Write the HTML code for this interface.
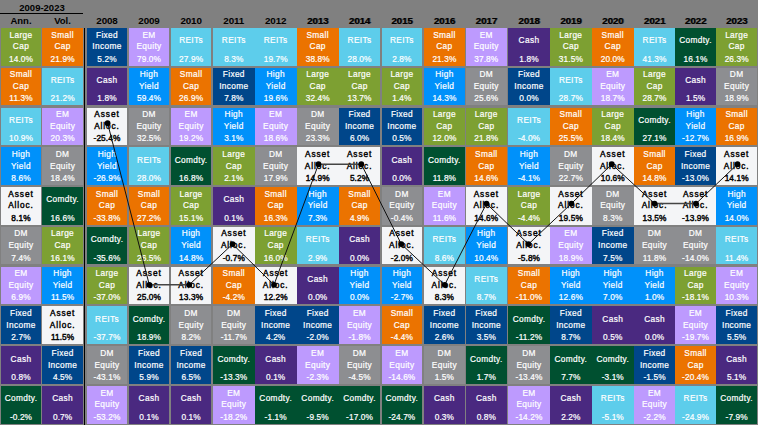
<!DOCTYPE html>
<html><head><meta charset="utf-8">
<style>
html,body{margin:0;padding:0;}
body{width:758px;height:425px;background:#808080;position:relative;overflow:hidden;
 font-family:"Liberation Sans",sans-serif;font-weight:bold;}
.c{position:absolute;box-sizing:border-box;color:#fff;font-size:8.3px;text-align:center;font-weight:normal;letter-spacing:0.35px;-webkit-text-stroke:0.2px currentColor;}
.c span.p{letter-spacing:0.1px;}
.c span{position:absolute;left:-4px;right:-4px;white-space:nowrap;line-height:10px;}
.k{color:#000;}
.c.k span{-webkit-text-stroke:0.4px #000;letter-spacing:0.9px;}
.c.k span.p{letter-spacing:0.1px;}
.h{position:absolute;color:#000;font-size:9.5px;white-space:nowrap;text-align:center;line-height:10px;}
</style></head><body>

<div class="h" style="left:0;width:84px;top:3px;">2009-2023</div>
<div style="position:absolute;left:0;top:13px;width:83px;height:1px;background:#000"></div>
<div class="h" style="left:1px;width:40px;top:16px;">Ann.</div>
<div class="h" style="left:42px;width:41px;top:16px;">Vol.</div>
<div class="h" style="left:87px;width:40.00px;top:16.0px;font-size:9.8px;letter-spacing:-0.1px;">2008</div>
<div class="h" style="left:129px;width:40.00px;top:16.0px;font-size:9.8px;letter-spacing:-0.1px;">2009</div>
<div class="h" style="left:171px;width:40.20px;top:16.0px;font-size:9.8px;letter-spacing:-0.1px;">2010</div>
<div class="h" style="left:213px;width:41.60px;top:16.0px;font-size:9.8px;letter-spacing:-0.1px;">2011</div>
<div class="h" style="left:254.6px;width:42.20px;top:16.0px;font-size:9.8px;letter-spacing:-0.1px;">2012</div>
<div class="h" style="left:296.8px;width:41.80px;top:16.0px;font-size:9.8px;letter-spacing:-0.1px;text-shadow:0.8px 0 0 rgba(0,0,0,0.6);">2013</div>
<div class="h" style="left:338.6px;width:41.90px;top:16.0px;font-size:9.8px;letter-spacing:-0.1px;text-shadow:0.8px 0 0 rgba(0,0,0,0.6);">2014</div>
<div class="h" style="left:381.5px;width:40.80px;top:16.0px;font-size:9.8px;letter-spacing:-0.1px;text-shadow:0.8px 0 0 rgba(0,0,0,0.6);">2015</div>
<div class="h" style="left:423.8px;width:41.20px;top:16.0px;font-size:9.8px;letter-spacing:-0.1px;text-shadow:0.8px 0 0 rgba(0,0,0,0.6);">2016</div>
<div class="h" style="left:465.8px;width:41.00px;top:16.0px;font-size:9.8px;letter-spacing:-0.1px;text-shadow:0.8px 0 0 rgba(0,0,0,0.6);">2017</div>
<div class="h" style="left:508px;width:42.00px;top:16.0px;font-size:9.8px;letter-spacing:-0.1px;text-shadow:0.8px 0 0 rgba(0,0,0,0.6);">2018</div>
<div class="h" style="left:550px;width:41.70px;top:16.0px;font-size:9.8px;letter-spacing:-0.1px;text-shadow:0.8px 0 0 rgba(0,0,0,0.6);">2019</div>
<div class="h" style="left:592px;width:41.50px;top:16.0px;font-size:9.8px;letter-spacing:-0.1px;text-shadow:0.8px 0 0 rgba(0,0,0,0.6);">2020</div>
<div class="h" style="left:634px;width:41.10px;top:16.0px;font-size:9.8px;letter-spacing:-0.1px;text-shadow:0.8px 0 0 rgba(0,0,0,0.6);">2021</div>
<div class="h" style="left:675.3px;width:40.50px;top:16.0px;font-size:9.8px;letter-spacing:-0.1px;text-shadow:0.8px 0 0 rgba(0,0,0,0.6);">2022</div>
<div class="h" style="left:716.3px;width:40.70px;top:16.0px;font-size:9.8px;letter-spacing:-0.1px;text-shadow:0.8px 0 0 rgba(0,0,0,0.6);">2023</div>
<div style="position:absolute;left:84px;top:28px;width:1px;height:397px;background:#000"></div>
<div class="c" style="left:1px;top:28.00px;width:40.00px;height:37.5px;background:#7da032"><span style="top:1.52px">Large</span><span style="top:13.32px">Cap</span><span class="p" style="top:25.62px">14.0%</span></div>
<div class="c" style="left:42px;top:28.00px;width:41.20px;height:37.5px;background:#eb7300"><span style="top:1.52px">Small</span><span style="top:13.32px">Cap</span><span class="p" style="top:25.62px">21.9%</span></div>
<div class="c" style="left:87px;top:28.00px;width:40.00px;height:37.5px;background:#00468a"><span style="top:1.52px">Fixed</span><span style="top:13.32px">Income</span><span class="p" style="top:25.62px">5.2%</span></div>
<div class="c" style="left:129px;top:28.00px;width:40.00px;height:37.5px;background:#bd9afe"><span style="top:1.52px">EM</span><span style="top:13.32px">Equity</span><span class="p" style="top:25.62px">79.0%</span></div>
<div class="c" style="left:171px;top:28.00px;width:40.20px;height:37.5px;background:#5dcdeb"><span style="top:7.32px">REITs</span><span class="p" style="top:25.62px">27.9%</span></div>
<div class="c" style="left:213px;top:28.00px;width:41.60px;height:37.5px;background:#5dcdeb"><span style="top:7.32px">REITs</span><span class="p" style="top:25.62px">8.3%</span></div>
<div class="c" style="left:254.6px;top:28.00px;width:42.20px;height:37.5px;background:#5dcdeb"><span style="top:7.32px">REITs</span><span class="p" style="top:25.62px">19.7%</span></div>
<div class="c" style="left:296.8px;top:28.00px;width:41.80px;height:37.5px;background:#eb7300"><span style="top:1.52px">Small</span><span style="top:13.32px">Cap</span><span class="p" style="top:25.62px">38.8%</span></div>
<div class="c" style="left:338.6px;top:28.00px;width:41.90px;height:37.5px;background:#5dcdeb"><span style="top:7.32px">REITs</span><span class="p" style="top:25.62px">28.0%</span></div>
<div class="c" style="left:381.5px;top:28.00px;width:40.80px;height:37.5px;background:#5dcdeb"><span style="top:7.32px">REITs</span><span class="p" style="top:25.62px">2.8%</span></div>
<div class="c" style="left:423.8px;top:28.00px;width:41.20px;height:37.5px;background:#eb7300"><span style="top:1.52px">Small</span><span style="top:13.32px">Cap</span><span class="p" style="top:25.62px">21.3%</span></div>
<div class="c" style="left:465.8px;top:28.00px;width:41.00px;height:37.5px;background:#bd9afe"><span style="top:1.52px">EM</span><span style="top:13.32px">Equity</span><span class="p" style="top:25.62px">37.8%</span></div>
<div class="c" style="left:508px;top:28.00px;width:42.00px;height:37.5px;background:#4a2980"><span style="top:7.32px">Cash</span><span class="p" style="top:25.62px">1.8%</span></div>
<div class="c" style="left:550px;top:28.00px;width:41.70px;height:37.5px;background:#7da032"><span style="top:1.52px">Large</span><span style="top:13.32px">Cap</span><span class="p" style="top:25.62px">31.5%</span></div>
<div class="c" style="left:592px;top:28.00px;width:41.50px;height:37.5px;background:#eb7300"><span style="top:1.52px">Small</span><span style="top:13.32px">Cap</span><span class="p" style="top:25.62px">20.0%</span></div>
<div class="c" style="left:634px;top:28.00px;width:41.10px;height:37.5px;background:#5dcdeb"><span style="top:7.32px">REITs</span><span class="p" style="top:25.62px">41.3%</span></div>
<div class="c" style="left:675.3px;top:28.00px;width:40.50px;height:37.5px;background:#005030"><span style="top:7.32px">Comdty.</span><span class="p" style="top:25.62px">16.1%</span></div>
<div class="c" style="left:716.3px;top:28.00px;width:40.70px;height:37.5px;background:#7da032"><span style="top:1.52px">Large</span><span style="top:13.32px">Cap</span><span class="p" style="top:25.62px">26.3%</span></div>
<div class="c" style="left:1px;top:67.78px;width:40.00px;height:37.5px;background:#eb7300"><span style="top:1.52px">Small</span><span style="top:13.32px">Cap</span><span class="p" style="top:25.62px">11.3%</span></div>
<div class="c" style="left:42px;top:67.78px;width:41.20px;height:37.5px;background:#5dcdeb"><span style="top:7.32px">REITs</span><span class="p" style="top:25.62px">21.2%</span></div>
<div class="c" style="left:87px;top:67.78px;width:40.00px;height:37.5px;background:#4a2980"><span style="top:7.32px">Cash</span><span class="p" style="top:25.62px">1.8%</span></div>
<div class="c" style="left:129px;top:67.78px;width:40.00px;height:37.5px;background:#0091fa"><span style="top:1.52px">High</span><span style="top:13.32px">Yield</span><span class="p" style="top:25.62px">59.4%</span></div>
<div class="c" style="left:171px;top:67.78px;width:40.20px;height:37.5px;background:#eb7300"><span style="top:1.52px">Small</span><span style="top:13.32px">Cap</span><span class="p" style="top:25.62px">26.9%</span></div>
<div class="c" style="left:213px;top:67.78px;width:41.60px;height:37.5px;background:#00468a"><span style="top:1.52px">Fixed</span><span style="top:13.32px">Income</span><span class="p" style="top:25.62px">7.8%</span></div>
<div class="c" style="left:254.6px;top:67.78px;width:42.20px;height:37.5px;background:#0091fa"><span style="top:1.52px">High</span><span style="top:13.32px">Yield</span><span class="p" style="top:25.62px">19.6%</span></div>
<div class="c" style="left:296.8px;top:67.78px;width:41.80px;height:37.5px;background:#7da032"><span style="top:1.52px">Large</span><span style="top:13.32px">Cap</span><span class="p" style="top:25.62px">32.4%</span></div>
<div class="c" style="left:338.6px;top:67.78px;width:41.90px;height:37.5px;background:#7da032"><span style="top:1.52px">Large</span><span style="top:13.32px">Cap</span><span class="p" style="top:25.62px">13.7%</span></div>
<div class="c" style="left:381.5px;top:67.78px;width:40.80px;height:37.5px;background:#7da032"><span style="top:1.52px">Large</span><span style="top:13.32px">Cap</span><span class="p" style="top:25.62px">1.4%</span></div>
<div class="c" style="left:423.8px;top:67.78px;width:41.20px;height:37.5px;background:#0091fa"><span style="top:1.52px">High</span><span style="top:13.32px">Yield</span><span class="p" style="top:25.62px">14.3%</span></div>
<div class="c" style="left:465.8px;top:67.78px;width:41.00px;height:37.5px;background:#8d8e91"><span style="top:1.52px">DM</span><span style="top:13.32px">Equity</span><span class="p" style="top:25.62px">25.6%</span></div>
<div class="c" style="left:508px;top:67.78px;width:42.00px;height:37.5px;background:#00468a"><span style="top:1.52px">Fixed</span><span style="top:13.32px">Income</span><span class="p" style="top:25.62px">0.0%</span></div>
<div class="c" style="left:550px;top:67.78px;width:41.70px;height:37.5px;background:#5dcdeb"><span style="top:7.32px">REITs</span><span class="p" style="top:25.62px">28.7%</span></div>
<div class="c" style="left:592px;top:67.78px;width:41.50px;height:37.5px;background:#bd9afe"><span style="top:1.52px">EM</span><span style="top:13.32px">Equity</span><span class="p" style="top:25.62px">18.7%</span></div>
<div class="c" style="left:634px;top:67.78px;width:41.10px;height:37.5px;background:#7da032"><span style="top:1.52px">Large</span><span style="top:13.32px">Cap</span><span class="p" style="top:25.62px">28.7%</span></div>
<div class="c" style="left:675.3px;top:67.78px;width:40.50px;height:37.5px;background:#4a2980"><span style="top:7.32px">Cash</span><span class="p" style="top:25.62px">1.5%</span></div>
<div class="c" style="left:716.3px;top:67.78px;width:40.70px;height:37.5px;background:#8d8e91"><span style="top:1.52px">DM</span><span style="top:13.32px">Equity</span><span class="p" style="top:25.62px">18.9%</span></div>
<div class="c" style="left:1px;top:107.56px;width:40.00px;height:37.5px;background:#5dcdeb"><span style="top:7.32px">REITs</span><span class="p" style="top:25.62px">10.9%</span></div>
<div class="c" style="left:42px;top:107.56px;width:41.20px;height:37.5px;background:#bd9afe"><span style="top:1.52px">EM</span><span style="top:13.32px">Equity</span><span class="p" style="top:25.62px">20.3%</span></div>
<div class="c k" style="left:87px;top:107.56px;width:40.00px;height:37.5px;background:#f4f5f7"><span style="top:1.52px">Asset</span><span style="top:13.32px">Alloc.</span><span class="p" style="top:25.62px">-25.4%</span></div>
<div class="c" style="left:129px;top:107.56px;width:40.00px;height:37.5px;background:#8d8e91"><span style="top:1.52px">DM</span><span style="top:13.32px">Equity</span><span class="p" style="top:25.62px">32.5%</span></div>
<div class="c" style="left:171px;top:107.56px;width:40.20px;height:37.5px;background:#bd9afe"><span style="top:1.52px">EM</span><span style="top:13.32px">Equity</span><span class="p" style="top:25.62px">19.2%</span></div>
<div class="c" style="left:213px;top:107.56px;width:41.60px;height:37.5px;background:#0091fa"><span style="top:1.52px">High</span><span style="top:13.32px">Yield</span><span class="p" style="top:25.62px">3.1%</span></div>
<div class="c" style="left:254.6px;top:107.56px;width:42.20px;height:37.5px;background:#bd9afe"><span style="top:1.52px">EM</span><span style="top:13.32px">Equity</span><span class="p" style="top:25.62px">18.6%</span></div>
<div class="c" style="left:296.8px;top:107.56px;width:41.80px;height:37.5px;background:#8d8e91"><span style="top:1.52px">DM</span><span style="top:13.32px">Equity</span><span class="p" style="top:25.62px">23.3%</span></div>
<div class="c" style="left:338.6px;top:107.56px;width:41.90px;height:37.5px;background:#00468a"><span style="top:1.52px">Fixed</span><span style="top:13.32px">Income</span><span class="p" style="top:25.62px">6.0%</span></div>
<div class="c" style="left:381.5px;top:107.56px;width:40.80px;height:37.5px;background:#00468a"><span style="top:1.52px">Fixed</span><span style="top:13.32px">Income</span><span class="p" style="top:25.62px">0.5%</span></div>
<div class="c" style="left:423.8px;top:107.56px;width:41.20px;height:37.5px;background:#7da032"><span style="top:1.52px">Large</span><span style="top:13.32px">Cap</span><span class="p" style="top:25.62px">12.0%</span></div>
<div class="c" style="left:465.8px;top:107.56px;width:41.00px;height:37.5px;background:#7da032"><span style="top:1.52px">Large</span><span style="top:13.32px">Cap</span><span class="p" style="top:25.62px">21.8%</span></div>
<div class="c" style="left:508px;top:107.56px;width:42.00px;height:37.5px;background:#5dcdeb"><span style="top:7.32px">REITs</span><span class="p" style="top:25.62px">-4.0%</span></div>
<div class="c" style="left:550px;top:107.56px;width:41.70px;height:37.5px;background:#eb7300"><span style="top:1.52px">Small</span><span style="top:13.32px">Cap</span><span class="p" style="top:25.62px">25.5%</span></div>
<div class="c" style="left:592px;top:107.56px;width:41.50px;height:37.5px;background:#7da032"><span style="top:1.52px">Large</span><span style="top:13.32px">Cap</span><span class="p" style="top:25.62px">18.4%</span></div>
<div class="c" style="left:634px;top:107.56px;width:41.10px;height:37.5px;background:#005030"><span style="top:7.32px">Comdty.</span><span class="p" style="top:25.62px">27.1%</span></div>
<div class="c" style="left:675.3px;top:107.56px;width:40.50px;height:37.5px;background:#0091fa"><span style="top:1.52px">High</span><span style="top:13.32px">Yield</span><span class="p" style="top:25.62px">-12.7%</span></div>
<div class="c" style="left:716.3px;top:107.56px;width:40.70px;height:37.5px;background:#eb7300"><span style="top:1.52px">Small</span><span style="top:13.32px">Cap</span><span class="p" style="top:25.62px">16.9%</span></div>
<div class="c" style="left:1px;top:147.34px;width:40.00px;height:37.5px;background:#0091fa"><span style="top:1.52px">High</span><span style="top:13.32px">Yield</span><span class="p" style="top:25.62px">8.6%</span></div>
<div class="c" style="left:42px;top:147.34px;width:41.20px;height:37.5px;background:#8d8e91"><span style="top:1.52px">DM</span><span style="top:13.32px">Equity</span><span class="p" style="top:25.62px">18.4%</span></div>
<div class="c" style="left:87px;top:147.34px;width:40.00px;height:37.5px;background:#0091fa"><span style="top:1.52px">High</span><span style="top:13.32px">Yield</span><span class="p" style="top:25.62px">-26.9%</span></div>
<div class="c" style="left:129px;top:147.34px;width:40.00px;height:37.5px;background:#5dcdeb"><span style="top:7.32px">REITs</span><span class="p" style="top:25.62px">28.0%</span></div>
<div class="c" style="left:171px;top:147.34px;width:40.20px;height:37.5px;background:#005030"><span style="top:7.32px">Comdty.</span><span class="p" style="top:25.62px">16.8%</span></div>
<div class="c" style="left:213px;top:147.34px;width:41.60px;height:37.5px;background:#7da032"><span style="top:1.52px">Large</span><span style="top:13.32px">Cap</span><span class="p" style="top:25.62px">2.1%</span></div>
<div class="c" style="left:254.6px;top:147.34px;width:42.20px;height:37.5px;background:#8d8e91"><span style="top:1.52px">DM</span><span style="top:13.32px">Equity</span><span class="p" style="top:25.62px">17.9%</span></div>
<div class="c k" style="left:296.8px;top:147.34px;width:41.80px;height:37.5px;background:#f4f5f7"><span style="top:1.52px">Asset</span><span style="top:13.32px">Alloc.</span><span class="p" style="top:25.62px">14.9%</span></div>
<div class="c k" style="left:338.6px;top:147.34px;width:41.90px;height:37.5px;background:#f4f5f7"><span style="top:1.52px">Asset</span><span style="top:13.32px">Alloc.</span><span class="p" style="top:25.62px">5.2%</span></div>
<div class="c" style="left:381.5px;top:147.34px;width:40.80px;height:37.5px;background:#4a2980"><span style="top:7.32px">Cash</span><span class="p" style="top:25.62px">0.0%</span></div>
<div class="c" style="left:423.8px;top:147.34px;width:41.20px;height:37.5px;background:#005030"><span style="top:7.32px">Comdty.</span><span class="p" style="top:25.62px">11.8%</span></div>
<div class="c" style="left:465.8px;top:147.34px;width:41.00px;height:37.5px;background:#eb7300"><span style="top:1.52px">Small</span><span style="top:13.32px">Cap</span><span class="p" style="top:25.62px">14.6%</span></div>
<div class="c" style="left:508px;top:147.34px;width:42.00px;height:37.5px;background:#0091fa"><span style="top:1.52px">High</span><span style="top:13.32px">Yield</span><span class="p" style="top:25.62px">-4.1%</span></div>
<div class="c" style="left:550px;top:147.34px;width:41.70px;height:37.5px;background:#8d8e91"><span style="top:1.52px">DM</span><span style="top:13.32px">Equity</span><span class="p" style="top:25.62px">22.7%</span></div>
<div class="c k" style="left:592px;top:147.34px;width:41.50px;height:37.5px;background:#f4f5f7"><span style="top:1.52px">Asset</span><span style="top:13.32px">Alloc.</span><span class="p" style="top:25.62px">10.6%</span></div>
<div class="c" style="left:634px;top:147.34px;width:41.10px;height:37.5px;background:#eb7300"><span style="top:1.52px">Small</span><span style="top:13.32px">Cap</span><span class="p" style="top:25.62px">14.8%</span></div>
<div class="c" style="left:675.3px;top:147.34px;width:40.50px;height:37.5px;background:#00468a"><span style="top:1.52px">Fixed</span><span style="top:13.32px">Income</span><span class="p" style="top:25.62px">-13.0%</span></div>
<div class="c k" style="left:716.3px;top:147.34px;width:40.70px;height:37.5px;background:#f4f5f7"><span style="top:1.52px">Asset</span><span style="top:13.32px">Alloc.</span><span class="p" style="top:25.62px">14.1%</span></div>
<div class="c k" style="left:1px;top:187.12px;width:40.00px;height:37.5px;background:#f4f5f7"><span style="top:1.52px">Asset</span><span style="top:13.32px">Alloc.</span><span class="p" style="top:25.62px">8.1%</span></div>
<div class="c" style="left:42px;top:187.12px;width:41.20px;height:37.5px;background:#005030"><span style="top:7.32px">Comdty.</span><span class="p" style="top:25.62px">16.6%</span></div>
<div class="c" style="left:87px;top:187.12px;width:40.00px;height:37.5px;background:#eb7300"><span style="top:1.52px">Small</span><span style="top:13.32px">Cap</span><span class="p" style="top:25.62px">-33.8%</span></div>
<div class="c" style="left:129px;top:187.12px;width:40.00px;height:37.5px;background:#eb7300"><span style="top:1.52px">Small</span><span style="top:13.32px">Cap</span><span class="p" style="top:25.62px">27.2%</span></div>
<div class="c" style="left:171px;top:187.12px;width:40.20px;height:37.5px;background:#7da032"><span style="top:1.52px">Large</span><span style="top:13.32px">Cap</span><span class="p" style="top:25.62px">15.1%</span></div>
<div class="c" style="left:213px;top:187.12px;width:41.60px;height:37.5px;background:#4a2980"><span style="top:7.32px">Cash</span><span class="p" style="top:25.62px">0.1%</span></div>
<div class="c" style="left:254.6px;top:187.12px;width:42.20px;height:37.5px;background:#eb7300"><span style="top:1.52px">Small</span><span style="top:13.32px">Cap</span><span class="p" style="top:25.62px">16.3%</span></div>
<div class="c" style="left:296.8px;top:187.12px;width:41.80px;height:37.5px;background:#0091fa"><span style="top:1.52px">High</span><span style="top:13.32px">Yield</span><span class="p" style="top:25.62px">7.3%</span></div>
<div class="c" style="left:338.6px;top:187.12px;width:41.90px;height:37.5px;background:#eb7300"><span style="top:1.52px">Small</span><span style="top:13.32px">Cap</span><span class="p" style="top:25.62px">4.9%</span></div>
<div class="c" style="left:381.5px;top:187.12px;width:40.80px;height:37.5px;background:#8d8e91"><span style="top:1.52px">DM</span><span style="top:13.32px">Equity</span><span class="p" style="top:25.62px">-0.4%</span></div>
<div class="c" style="left:423.8px;top:187.12px;width:41.20px;height:37.5px;background:#bd9afe"><span style="top:1.52px">EM</span><span style="top:13.32px">Equity</span><span class="p" style="top:25.62px">11.6%</span></div>
<div class="c k" style="left:465.8px;top:187.12px;width:41.00px;height:37.5px;background:#f4f5f7"><span style="top:1.52px">Asset</span><span style="top:13.32px">Alloc.</span><span class="p" style="top:25.62px">14.6%</span></div>
<div class="c" style="left:508px;top:187.12px;width:42.00px;height:37.5px;background:#7da032"><span style="top:1.52px">Large</span><span style="top:13.32px">Cap</span><span class="p" style="top:25.62px">-4.4%</span></div>
<div class="c k" style="left:550px;top:187.12px;width:41.70px;height:37.5px;background:#f4f5f7"><span style="top:1.52px">Asset</span><span style="top:13.32px">Alloc.</span><span class="p" style="top:25.62px">19.5%</span></div>
<div class="c" style="left:592px;top:187.12px;width:41.50px;height:37.5px;background:#8d8e91"><span style="top:1.52px">DM</span><span style="top:13.32px">Equity</span><span class="p" style="top:25.62px">8.3%</span></div>
<div class="c k" style="left:634px;top:187.12px;width:41.10px;height:37.5px;background:#f4f5f7"><span style="top:1.52px">Asset</span><span style="top:13.32px">Alloc.</span><span class="p" style="top:25.62px">13.5%</span></div>
<div class="c k" style="left:675.3px;top:187.12px;width:40.50px;height:37.5px;background:#f4f5f7"><span style="top:1.52px">Asset</span><span style="top:13.32px">Alloc.</span><span class="p" style="top:25.62px">-13.9%</span></div>
<div class="c" style="left:716.3px;top:187.12px;width:40.70px;height:37.5px;background:#0091fa"><span style="top:1.52px">High</span><span style="top:13.32px">Yield</span><span class="p" style="top:25.62px">14.0%</span></div>
<div class="c" style="left:1px;top:226.90px;width:40.00px;height:37.5px;background:#8d8e91"><span style="top:1.52px">DM</span><span style="top:13.32px">Equity</span><span class="p" style="top:25.62px">7.4%</span></div>
<div class="c" style="left:42px;top:226.90px;width:41.20px;height:37.5px;background:#7da032"><span style="top:1.52px">Large</span><span style="top:13.32px">Cap</span><span class="p" style="top:25.62px">16.1%</span></div>
<div class="c" style="left:87px;top:226.90px;width:40.00px;height:37.5px;background:#005030"><span style="top:7.32px">Comdty.</span><span class="p" style="top:25.62px">-35.6%</span></div>
<div class="c" style="left:129px;top:226.90px;width:40.00px;height:37.5px;background:#7da032"><span style="top:1.52px">Large</span><span style="top:13.32px">Cap</span><span class="p" style="top:25.62px">26.5%</span></div>
<div class="c" style="left:171px;top:226.90px;width:40.20px;height:37.5px;background:#0091fa"><span style="top:1.52px">High</span><span style="top:13.32px">Yield</span><span class="p" style="top:25.62px">14.8%</span></div>
<div class="c k" style="left:213px;top:226.90px;width:41.60px;height:37.5px;background:#f4f5f7"><span style="top:1.52px">Asset</span><span style="top:13.32px">Alloc.</span><span class="p" style="top:25.62px">-0.7%</span></div>
<div class="c" style="left:254.6px;top:226.90px;width:42.20px;height:37.5px;background:#7da032"><span style="top:1.52px">Large</span><span style="top:13.32px">Cap</span><span class="p" style="top:25.62px">16.0%</span></div>
<div class="c" style="left:296.8px;top:226.90px;width:41.80px;height:37.5px;background:#5dcdeb"><span style="top:7.32px">REITs</span><span class="p" style="top:25.62px">2.9%</span></div>
<div class="c" style="left:338.6px;top:226.90px;width:41.90px;height:37.5px;background:#4a2980"><span style="top:7.32px">Cash</span><span class="p" style="top:25.62px">0.0%</span></div>
<div class="c k" style="left:381.5px;top:226.90px;width:40.80px;height:37.5px;background:#f4f5f7"><span style="top:1.52px">Asset</span><span style="top:13.32px">Alloc.</span><span class="p" style="top:25.62px">-2.0%</span></div>
<div class="c" style="left:423.8px;top:226.90px;width:41.20px;height:37.5px;background:#5dcdeb"><span style="top:7.32px">REITs</span><span class="p" style="top:25.62px">8.6%</span></div>
<div class="c" style="left:465.8px;top:226.90px;width:41.00px;height:37.5px;background:#0091fa"><span style="top:1.52px">High</span><span style="top:13.32px">Yield</span><span class="p" style="top:25.62px">10.4%</span></div>
<div class="c k" style="left:508px;top:226.90px;width:42.00px;height:37.5px;background:#f4f5f7"><span style="top:1.52px">Asset</span><span style="top:13.32px">Alloc.</span><span class="p" style="top:25.62px">-5.8%</span></div>
<div class="c" style="left:550px;top:226.90px;width:41.70px;height:37.5px;background:#bd9afe"><span style="top:1.52px">EM</span><span style="top:13.32px">Equity</span><span class="p" style="top:25.62px">18.9%</span></div>
<div class="c" style="left:592px;top:226.90px;width:41.50px;height:37.5px;background:#00468a"><span style="top:1.52px">Fixed</span><span style="top:13.32px">Income</span><span class="p" style="top:25.62px">7.5%</span></div>
<div class="c" style="left:634px;top:226.90px;width:41.10px;height:37.5px;background:#8d8e91"><span style="top:1.52px">DM</span><span style="top:13.32px">Equity</span><span class="p" style="top:25.62px">11.8%</span></div>
<div class="c" style="left:675.3px;top:226.90px;width:40.50px;height:37.5px;background:#8d8e91"><span style="top:1.52px">DM</span><span style="top:13.32px">Equity</span><span class="p" style="top:25.62px">-14.0%</span></div>
<div class="c" style="left:716.3px;top:226.90px;width:40.70px;height:37.5px;background:#5dcdeb"><span style="top:7.32px">REITs</span><span class="p" style="top:25.62px">11.4%</span></div>
<div class="c" style="left:1px;top:266.68px;width:40.00px;height:37.5px;background:#bd9afe"><span style="top:1.52px">EM</span><span style="top:13.32px">Equity</span><span class="p" style="top:25.62px">6.9%</span></div>
<div class="c" style="left:42px;top:266.68px;width:41.20px;height:37.5px;background:#0091fa"><span style="top:1.52px">High</span><span style="top:13.32px">Yield</span><span class="p" style="top:25.62px">11.5%</span></div>
<div class="c" style="left:87px;top:266.68px;width:40.00px;height:37.5px;background:#7da032"><span style="top:1.52px">Large</span><span style="top:13.32px">Cap</span><span class="p" style="top:25.62px">-37.0%</span></div>
<div class="c k" style="left:129px;top:266.68px;width:40.00px;height:37.5px;background:#f4f5f7"><span style="top:1.52px">Asset</span><span style="top:13.32px">Alloc.</span><span class="p" style="top:25.62px">25.0%</span></div>
<div class="c k" style="left:171px;top:266.68px;width:40.20px;height:37.5px;background:#f4f5f7"><span style="top:1.52px">Asset</span><span style="top:13.32px">Alloc.</span><span class="p" style="top:25.62px">13.3%</span></div>
<div class="c" style="left:213px;top:266.68px;width:41.60px;height:37.5px;background:#eb7300"><span style="top:1.52px">Small</span><span style="top:13.32px">Cap</span><span class="p" style="top:25.62px">-4.2%</span></div>
<div class="c k" style="left:254.6px;top:266.68px;width:42.20px;height:37.5px;background:#f4f5f7"><span style="top:1.52px">Asset</span><span style="top:13.32px">Alloc.</span><span class="p" style="top:25.62px">12.2%</span></div>
<div class="c" style="left:296.8px;top:266.68px;width:41.80px;height:37.5px;background:#4a2980"><span style="top:7.32px">Cash</span><span class="p" style="top:25.62px">0.0%</span></div>
<div class="c" style="left:338.6px;top:266.68px;width:41.90px;height:37.5px;background:#0091fa"><span style="top:1.52px">High</span><span style="top:13.32px">Yield</span><span class="p" style="top:25.62px">0.0%</span></div>
<div class="c" style="left:381.5px;top:266.68px;width:40.80px;height:37.5px;background:#0091fa"><span style="top:1.52px">High</span><span style="top:13.32px">Yield</span><span class="p" style="top:25.62px">-2.7%</span></div>
<div class="c k" style="left:423.8px;top:266.68px;width:41.20px;height:37.5px;background:#f4f5f7"><span style="top:1.52px">Asset</span><span style="top:13.32px">Alloc.</span><span class="p" style="top:25.62px">8.3%</span></div>
<div class="c" style="left:465.8px;top:266.68px;width:41.00px;height:37.5px;background:#5dcdeb"><span style="top:7.32px">REITs</span><span class="p" style="top:25.62px">8.7%</span></div>
<div class="c" style="left:508px;top:266.68px;width:42.00px;height:37.5px;background:#eb7300"><span style="top:1.52px">Small</span><span style="top:13.32px">Cap</span><span class="p" style="top:25.62px">-11.0%</span></div>
<div class="c" style="left:550px;top:266.68px;width:41.70px;height:37.5px;background:#0091fa"><span style="top:1.52px">High</span><span style="top:13.32px">Yield</span><span class="p" style="top:25.62px">12.6%</span></div>
<div class="c" style="left:592px;top:266.68px;width:41.50px;height:37.5px;background:#0091fa"><span style="top:1.52px">High</span><span style="top:13.32px">Yield</span><span class="p" style="top:25.62px">7.0%</span></div>
<div class="c" style="left:634px;top:266.68px;width:41.10px;height:37.5px;background:#0091fa"><span style="top:1.52px">High</span><span style="top:13.32px">Yield</span><span class="p" style="top:25.62px">1.0%</span></div>
<div class="c" style="left:675.3px;top:266.68px;width:40.50px;height:37.5px;background:#7da032"><span style="top:1.52px">Large</span><span style="top:13.32px">Cap</span><span class="p" style="top:25.62px">-18.1%</span></div>
<div class="c" style="left:716.3px;top:266.68px;width:40.70px;height:37.5px;background:#bd9afe"><span style="top:1.52px">EM</span><span style="top:13.32px">Equity</span><span class="p" style="top:25.62px">10.3%</span></div>
<div class="c" style="left:1px;top:306.46px;width:40.00px;height:37.5px;background:#00468a"><span style="top:1.52px">Fixed</span><span style="top:13.32px">Income</span><span class="p" style="top:25.62px">2.7%</span></div>
<div class="c k" style="left:42px;top:306.46px;width:41.20px;height:37.5px;background:#f4f5f7"><span style="top:1.52px">Asset</span><span style="top:13.32px">Alloc.</span><span class="p" style="top:25.62px">11.5%</span></div>
<div class="c" style="left:87px;top:306.46px;width:40.00px;height:37.5px;background:#5dcdeb"><span style="top:7.32px">REITs</span><span class="p" style="top:25.62px">-37.7%</span></div>
<div class="c" style="left:129px;top:306.46px;width:40.00px;height:37.5px;background:#005030"><span style="top:7.32px">Comdty.</span><span class="p" style="top:25.62px">18.9%</span></div>
<div class="c" style="left:171px;top:306.46px;width:40.20px;height:37.5px;background:#8d8e91"><span style="top:1.52px">DM</span><span style="top:13.32px">Equity</span><span class="p" style="top:25.62px">8.2%</span></div>
<div class="c" style="left:213px;top:306.46px;width:41.60px;height:37.5px;background:#8d8e91"><span style="top:1.52px">DM</span><span style="top:13.32px">Equity</span><span class="p" style="top:25.62px">-11.7%</span></div>
<div class="c" style="left:254.6px;top:306.46px;width:42.20px;height:37.5px;background:#00468a"><span style="top:1.52px">Fixed</span><span style="top:13.32px">Income</span><span class="p" style="top:25.62px">4.2%</span></div>
<div class="c" style="left:296.8px;top:306.46px;width:41.80px;height:37.5px;background:#00468a"><span style="top:1.52px">Fixed</span><span style="top:13.32px">Income</span><span class="p" style="top:25.62px">-2.0%</span></div>
<div class="c" style="left:338.6px;top:306.46px;width:41.90px;height:37.5px;background:#bd9afe"><span style="top:1.52px">EM</span><span style="top:13.32px">Equity</span><span class="p" style="top:25.62px">-1.8%</span></div>
<div class="c" style="left:381.5px;top:306.46px;width:40.80px;height:37.5px;background:#eb7300"><span style="top:1.52px">Small</span><span style="top:13.32px">Cap</span><span class="p" style="top:25.62px">-4.4%</span></div>
<div class="c" style="left:423.8px;top:306.46px;width:41.20px;height:37.5px;background:#00468a"><span style="top:1.52px">Fixed</span><span style="top:13.32px">Income</span><span class="p" style="top:25.62px">2.6%</span></div>
<div class="c" style="left:465.8px;top:306.46px;width:41.00px;height:37.5px;background:#00468a"><span style="top:1.52px">Fixed</span><span style="top:13.32px">Income</span><span class="p" style="top:25.62px">3.5%</span></div>
<div class="c" style="left:508px;top:306.46px;width:42.00px;height:37.5px;background:#005030"><span style="top:7.32px">Comdty.</span><span class="p" style="top:25.62px">-11.2%</span></div>
<div class="c" style="left:550px;top:306.46px;width:41.70px;height:37.5px;background:#00468a"><span style="top:1.52px">Fixed</span><span style="top:13.32px">Income</span><span class="p" style="top:25.62px">8.7%</span></div>
<div class="c" style="left:592px;top:306.46px;width:41.50px;height:37.5px;background:#4a2980"><span style="top:7.32px">Cash</span><span class="p" style="top:25.62px">0.5%</span></div>
<div class="c" style="left:634px;top:306.46px;width:41.10px;height:37.5px;background:#4a2980"><span style="top:7.32px">Cash</span><span class="p" style="top:25.62px">0.0%</span></div>
<div class="c" style="left:675.3px;top:306.46px;width:40.50px;height:37.5px;background:#bd9afe"><span style="top:1.52px">EM</span><span style="top:13.32px">Equity</span><span class="p" style="top:25.62px">-19.7%</span></div>
<div class="c" style="left:716.3px;top:306.46px;width:40.70px;height:37.5px;background:#00468a"><span style="top:1.52px">Fixed</span><span style="top:13.32px">Income</span><span class="p" style="top:25.62px">5.5%</span></div>
<div class="c" style="left:1px;top:346.24px;width:40.00px;height:37.5px;background:#4a2980"><span style="top:7.32px">Cash</span><span class="p" style="top:25.62px">0.8%</span></div>
<div class="c" style="left:42px;top:346.24px;width:41.20px;height:37.5px;background:#00468a"><span style="top:1.52px">Fixed</span><span style="top:13.32px">Income</span><span class="p" style="top:25.62px">4.5%</span></div>
<div class="c" style="left:87px;top:346.24px;width:40.00px;height:37.5px;background:#8d8e91"><span style="top:1.52px">DM</span><span style="top:13.32px">Equity</span><span class="p" style="top:25.62px">-43.1%</span></div>
<div class="c" style="left:129px;top:346.24px;width:40.00px;height:37.5px;background:#00468a"><span style="top:1.52px">Fixed</span><span style="top:13.32px">Income</span><span class="p" style="top:25.62px">5.9%</span></div>
<div class="c" style="left:171px;top:346.24px;width:40.20px;height:37.5px;background:#00468a"><span style="top:1.52px">Fixed</span><span style="top:13.32px">Income</span><span class="p" style="top:25.62px">6.5%</span></div>
<div class="c" style="left:213px;top:346.24px;width:41.60px;height:37.5px;background:#005030"><span style="top:7.32px">Comdty.</span><span class="p" style="top:25.62px">-13.3%</span></div>
<div class="c" style="left:254.6px;top:346.24px;width:42.20px;height:37.5px;background:#4a2980"><span style="top:7.32px">Cash</span><span class="p" style="top:25.62px">0.1%</span></div>
<div class="c" style="left:296.8px;top:346.24px;width:41.80px;height:37.5px;background:#bd9afe"><span style="top:1.52px">EM</span><span style="top:13.32px">Equity</span><span class="p" style="top:25.62px">-2.3%</span></div>
<div class="c" style="left:338.6px;top:346.24px;width:41.90px;height:37.5px;background:#8d8e91"><span style="top:1.52px">DM</span><span style="top:13.32px">Equity</span><span class="p" style="top:25.62px">-4.5%</span></div>
<div class="c" style="left:381.5px;top:346.24px;width:40.80px;height:37.5px;background:#bd9afe"><span style="top:1.52px">EM</span><span style="top:13.32px">Equity</span><span class="p" style="top:25.62px">-14.6%</span></div>
<div class="c" style="left:423.8px;top:346.24px;width:41.20px;height:37.5px;background:#8d8e91"><span style="top:1.52px">DM</span><span style="top:13.32px">Equity</span><span class="p" style="top:25.62px">1.5%</span></div>
<div class="c" style="left:465.8px;top:346.24px;width:41.00px;height:37.5px;background:#005030"><span style="top:7.32px">Comdty.</span><span class="p" style="top:25.62px">1.7%</span></div>
<div class="c" style="left:508px;top:346.24px;width:42.00px;height:37.5px;background:#8d8e91"><span style="top:1.52px">DM</span><span style="top:13.32px">Equity</span><span class="p" style="top:25.62px">-13.4%</span></div>
<div class="c" style="left:550px;top:346.24px;width:41.70px;height:37.5px;background:#005030"><span style="top:7.32px">Comdty.</span><span class="p" style="top:25.62px">7.7%</span></div>
<div class="c" style="left:592px;top:346.24px;width:41.50px;height:37.5px;background:#005030"><span style="top:7.32px">Comdty.</span><span class="p" style="top:25.62px">-3.1%</span></div>
<div class="c" style="left:634px;top:346.24px;width:41.10px;height:37.5px;background:#00468a"><span style="top:1.52px">Fixed</span><span style="top:13.32px">Income</span><span class="p" style="top:25.62px">-1.5%</span></div>
<div class="c" style="left:675.3px;top:346.24px;width:40.50px;height:37.5px;background:#eb7300"><span style="top:1.52px">Small</span><span style="top:13.32px">Cap</span><span class="p" style="top:25.62px">-20.4%</span></div>
<div class="c" style="left:716.3px;top:346.24px;width:40.70px;height:37.5px;background:#4a2980"><span style="top:7.32px">Cash</span><span class="p" style="top:25.62px">5.1%</span></div>
<div class="c" style="left:1px;top:386.02px;width:40.00px;height:37.5px;background:#005030"><span style="top:7.32px">Comdty.</span><span class="p" style="top:25.62px">-0.2%</span></div>
<div class="c" style="left:42px;top:386.02px;width:41.20px;height:37.5px;background:#4a2980"><span style="top:7.32px">Cash</span><span class="p" style="top:25.62px">0.7%</span></div>
<div class="c" style="left:87px;top:386.02px;width:40.00px;height:37.5px;background:#bd9afe"><span style="top:1.52px">EM</span><span style="top:13.32px">Equity</span><span class="p" style="top:25.62px">-53.2%</span></div>
<div class="c" style="left:129px;top:386.02px;width:40.00px;height:37.5px;background:#4a2980"><span style="top:7.32px">Cash</span><span class="p" style="top:25.62px">0.1%</span></div>
<div class="c" style="left:171px;top:386.02px;width:40.20px;height:37.5px;background:#4a2980"><span style="top:7.32px">Cash</span><span class="p" style="top:25.62px">0.1%</span></div>
<div class="c" style="left:213px;top:386.02px;width:41.60px;height:37.5px;background:#bd9afe"><span style="top:1.52px">EM</span><span style="top:13.32px">Equity</span><span class="p" style="top:25.62px">-18.2%</span></div>
<div class="c" style="left:254.6px;top:386.02px;width:42.20px;height:37.5px;background:#005030"><span style="top:7.32px">Comdty.</span><span class="p" style="top:25.62px">-1.1%</span></div>
<div class="c" style="left:296.8px;top:386.02px;width:41.80px;height:37.5px;background:#005030"><span style="top:7.32px">Comdty.</span><span class="p" style="top:25.62px">-9.5%</span></div>
<div class="c" style="left:338.6px;top:386.02px;width:41.90px;height:37.5px;background:#005030"><span style="top:7.32px">Comdty.</span><span class="p" style="top:25.62px">-17.0%</span></div>
<div class="c" style="left:381.5px;top:386.02px;width:40.80px;height:37.5px;background:#005030"><span style="top:7.32px">Comdty.</span><span class="p" style="top:25.62px">-24.7%</span></div>
<div class="c" style="left:423.8px;top:386.02px;width:41.20px;height:37.5px;background:#4a2980"><span style="top:7.32px">Cash</span><span class="p" style="top:25.62px">0.3%</span></div>
<div class="c" style="left:465.8px;top:386.02px;width:41.00px;height:37.5px;background:#4a2980"><span style="top:7.32px">Cash</span><span class="p" style="top:25.62px">0.8%</span></div>
<div class="c" style="left:508px;top:386.02px;width:42.00px;height:37.5px;background:#bd9afe"><span style="top:1.52px">EM</span><span style="top:13.32px">Equity</span><span class="p" style="top:25.62px">-14.2%</span></div>
<div class="c" style="left:550px;top:386.02px;width:41.70px;height:37.5px;background:#4a2980"><span style="top:7.32px">Cash</span><span class="p" style="top:25.62px">2.2%</span></div>
<div class="c" style="left:592px;top:386.02px;width:41.50px;height:37.5px;background:#5dcdeb"><span style="top:7.32px">REITs</span><span class="p" style="top:25.62px">-5.1%</span></div>
<div class="c" style="left:634px;top:386.02px;width:41.10px;height:37.5px;background:#bd9afe"><span style="top:1.52px">EM</span><span style="top:13.32px">Equity</span><span class="p" style="top:25.62px">-2.2%</span></div>
<div class="c" style="left:675.3px;top:386.02px;width:40.50px;height:37.5px;background:#5dcdeb"><span style="top:7.32px">REITs</span><span class="p" style="top:25.62px">-24.9%</span></div>
<div class="c" style="left:716.3px;top:386.02px;width:40.70px;height:37.5px;background:#005030"><span style="top:7.32px">Comdty.</span><span class="p" style="top:25.62px">-7.9%</span></div>
<svg style="position:absolute;left:0;top:0" width="758" height="425"><line x1="107.60" y1="123.20" x2="149.30" y2="284.80" stroke="#111" stroke-width="1.0"/><line x1="149.30" y1="284.80" x2="189.20" y2="284.80" stroke="#444" stroke-width="1.5"/><line x1="189.20" y1="284.80" x2="232.60" y2="244.10" stroke="#111" stroke-width="1.0"/><line x1="232.60" y1="244.10" x2="274.00" y2="284.80" stroke="#111" stroke-width="1.0"/><line x1="274.00" y1="284.80" x2="318.50" y2="164.20" stroke="#111" stroke-width="1.0"/><line x1="318.50" y1="164.20" x2="361.30" y2="164.20" stroke="#444" stroke-width="1.5"/><line x1="361.30" y1="164.20" x2="401.30" y2="244.10" stroke="#111" stroke-width="1.0"/><line x1="401.30" y1="244.10" x2="444.70" y2="284.80" stroke="#111" stroke-width="1.0"/><line x1="444.70" y1="284.80" x2="486.50" y2="203.60" stroke="#111" stroke-width="1.0"/><line x1="486.50" y1="203.60" x2="528.50" y2="244.10" stroke="#111" stroke-width="1.0"/><line x1="528.50" y1="244.10" x2="571.40" y2="203.60" stroke="#111" stroke-width="1.0"/><line x1="571.40" y1="203.60" x2="611.80" y2="164.20" stroke="#111" stroke-width="1.0"/><line x1="611.80" y1="164.20" x2="654.60" y2="203.60" stroke="#111" stroke-width="1.0"/><line x1="654.60" y1="203.60" x2="696.00" y2="203.60" stroke="#444" stroke-width="1.5"/><line x1="696.00" y1="203.60" x2="737.50" y2="164.20" stroke="#111" stroke-width="1.0"/><circle cx="107.60" cy="123.20" r="2.9" fill="#000"/><circle cx="149.30" cy="284.80" r="2.9" fill="#000"/><circle cx="189.20" cy="284.80" r="2.9" fill="#000"/><circle cx="232.60" cy="244.10" r="2.9" fill="#000"/><circle cx="274.00" cy="284.80" r="2.9" fill="#000"/><circle cx="318.50" cy="164.20" r="2.9" fill="#000"/><circle cx="361.30" cy="164.20" r="2.9" fill="#000"/><circle cx="401.30" cy="244.10" r="2.9" fill="#000"/><circle cx="444.70" cy="284.80" r="2.9" fill="#000"/><circle cx="486.50" cy="203.60" r="2.9" fill="#000"/><circle cx="528.50" cy="244.10" r="2.9" fill="#000"/><circle cx="571.40" cy="203.60" r="2.9" fill="#000"/><circle cx="611.80" cy="164.20" r="2.9" fill="#000"/><circle cx="654.60" cy="203.60" r="2.9" fill="#000"/><circle cx="696.00" cy="203.60" r="2.9" fill="#000"/><circle cx="737.50" cy="164.20" r="2.9" fill="#000"/></svg>
</body></html>
